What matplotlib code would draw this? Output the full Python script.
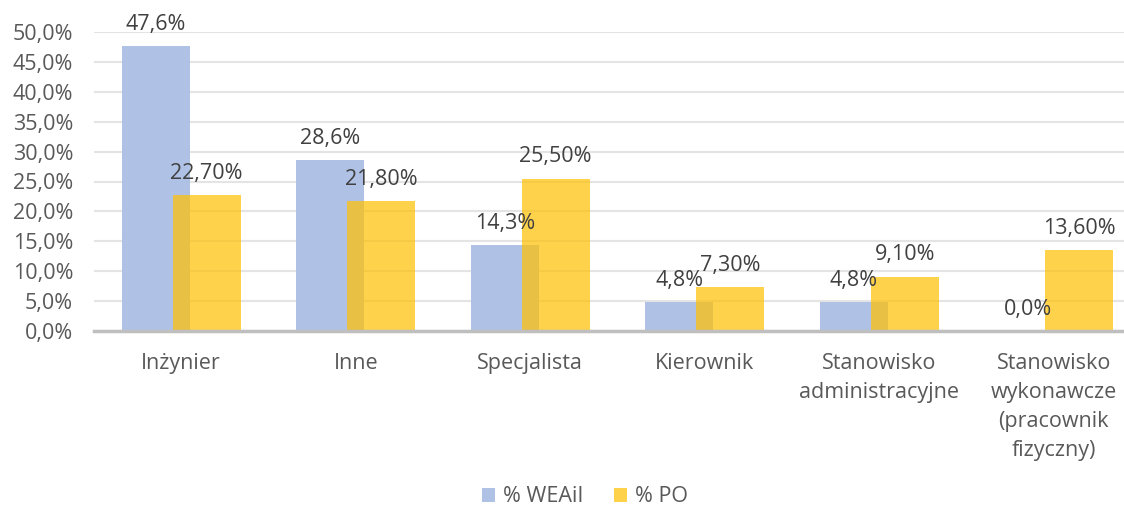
import numpy as np
import matplotlib.pyplot as plt

# data
categories = ["Inżynier", "Inne", "Specjalista", "Kierownik",
              "Stanowisko\nadministracyjne",
              "Stanowisko\nwykonawcze\n(pracownik\nfizyczny)"]
weaii = [47.6, 28.6, 14.3, 4.8, 4.8, 0.0]
po = [22.7, 21.8, 25.5, 7.3, 9.1, 13.6]
weaii_labels = ["47,6%", "28,6%", "14,3%", "4,8%", "4,8%", "0,0%"]
po_labels = ["22,70%", "21,80%", "25,50%", "7,30%", "9,10%", "13,60%"]
yticks = [0, 5, 10, 15, 20, 25, 30, 35, 40, 45, 50]

plt.rcParams['font.family'] = ['Open Sans', 'DejaVu Sans']
grey = '#595959'
fs = 15.5

fig = plt.figure(figsize=(11.24, 5.12), dpi=100)
ax = fig.add_axes([94 / 1124, (512 - 331) / 512, 174.5 * 6 / 1124, 299 / 512])

x = np.arange(len(categories))
w = 0.39
off = 0.146
b1 = ax.bar(x - off, weaii, w, color='#AFC2E6', label='% WEAiI', zorder=2)
b2 = ax.bar(x + off, po, w, color='#FFC000', alpha=0.7, label='% PO', zorder=3)

for xi, v, t in zip(x - off, weaii, weaii_labels):
    ax.annotate(t, (xi, v), xytext=(0, 8), textcoords='offset points',
                ha='center', va='bottom', fontsize=fs, color='#404040')
for xi, v, t in zip(x + off, po, po_labels):
    ax.annotate(t, (xi, v), xytext=(0, 8), textcoords='offset points',
                ha='center', va='bottom', fontsize=fs, color='#404040')

ax.set_xlim(-0.5, len(categories) - 0.5)
ax.set_ylim(0, 50)
ax.set_yticks(yticks)
ax.set_yticklabels([f"{t},0%" for t in yticks], fontsize=fs, color=grey)
ax.set_xticks(x)
ax.set_xticklabels(categories, fontsize=fs, color=grey, linespacing=1.5)
ax.tick_params(axis='both', length=0)
ax.tick_params(axis='y', pad=15)
ax.tick_params(axis='x', pad=16)

ax.grid(axis='y', color='#E4E4E4', linewidth=1.5, zorder=0)
ax.set_axisbelow(True)
for s in ['top', 'right', 'left']:
    ax.spines[s].set_visible(False)
ax.spines['bottom'].set_color('#BFBFBF')
ax.spines['bottom'].set_linewidth(2.5)
ax.spines['bottom'].set_zorder(4)

fig.legend(handles=[b1, b2], loc='center', bbox_to_anchor=(585 / 1124, 1 - 497 / 512),
           ncol=2, frameon=False, fontsize=fs, labelcolor=grey,
           handlelength=0.6, handleheight=0.6, columnspacing=1.4, handletextpad=0.4)

fig.savefig('out.png', dpi=100)
